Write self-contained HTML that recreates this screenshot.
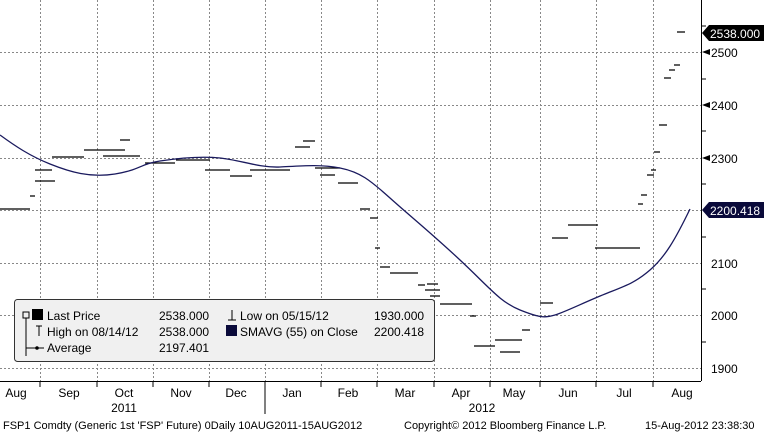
<!DOCTYPE html>
<html><head><style>
body{margin:0;background:#fff;}
svg{display:block;font-family:"Liberation Sans",sans-serif;}
</style></head><body>
<svg width="764" height="433" viewBox="0 0 764 433" xmlns="http://www.w3.org/2000/svg">
<rect width="764" height="433" fill="#fff"/>
<g stroke="#888" stroke-dasharray="2,2" stroke-width="1">
<line x1="0" y1="52.5" x2="701" y2="52.5"/><line x1="0" y1="105.5" x2="701" y2="105.5"/>
<line x1="0" y1="158.5" x2="701" y2="158.5"/><line x1="0" y1="210.5" x2="701" y2="210.5"/>
<line x1="0" y1="263.5" x2="701" y2="263.5"/><line x1="0" y1="315.5" x2="701" y2="315.5"/>
<line x1="0" y1="368.5" x2="701" y2="368.5"/>
<line x1="40.5" y1="0" x2="40.5" y2="381"/><line x1="97.5" y1="0" x2="97.5" y2="381"/>
<line x1="153.5" y1="0" x2="153.5" y2="381"/><line x1="209.5" y1="0" x2="209.5" y2="381"/>
<line x1="265.5" y1="0" x2="265.5" y2="381"/><line x1="321.5" y1="0" x2="321.5" y2="381"/>
<line x1="377.5" y1="0" x2="377.5" y2="381"/><line x1="434.5" y1="0" x2="434.5" y2="381"/>
<line x1="490.5" y1="0" x2="490.5" y2="381"/><line x1="540.5" y1="0" x2="540.5" y2="381"/>
<line x1="596.5" y1="0" x2="596.5" y2="381"/><line x1="653.5" y1="0" x2="653.5" y2="381"/>
</g>
<g stroke="#000" stroke-width="1.3">
<path d="M0 209H30M30 196H35M35 181H55M35 170H52M52 157H84M84 150H125M120 140H130M103 156H140M145 163H175M176 160H210M205 170H230M230 176H252M250 170H290M295 147H310M303 141H315M315 168H340M320 175H335M338 183H358M360 209H370M370 218H378M375 248H380M380 267H390M390 273H418M418 285H425M425 290H440M427 284H438M430 296H440M440 304H472M470 316H476M474 346H495M495 340H522M500 352H520M522 330H530M540 303H553M552 238H568M568 225H598M595 248H640M638 204H643M641 195H647M647 175H654M651 170H656M654 152H660M659 125H667M664 78H671M669 70H675M674 65H680M677 32H685"/>
</g>
<path d="M0 135 C15 146,30 156,50 164 S90 178,115 174 S140 164,160 161 S200 156,220 158 S260 168,280 167 S320 164,340 168 S370 180,390 198 S430 232,460 260 S500 302,520 310 S545 318,555 315 S585 302,605 294 S635 283,650 270 S675 240,690 209" fill="none" stroke="#1a1a5e" stroke-width="1.3"/>
<line x1="701.5" y1="0" x2="701.5" y2="381" stroke="#000"/>
<line x1="0" y1="381.5" x2="701" y2="381.5" stroke="#000"/>
<g stroke="#000">
<line x1="701" y1="26" x2="706" y2="26"/><line x1="701" y1="79" x2="706" y2="79"/><line x1="701" y1="131" x2="706" y2="131"/><line x1="701" y1="184" x2="706" y2="184"/><line x1="701" y1="237" x2="706" y2="237"/><line x1="701" y1="289" x2="706" y2="289"/><line x1="701" y1="342" x2="706" y2="342"/>
<line x1="40" y1="381" x2="40" y2="387"/><line x1="97" y1="381" x2="97" y2="387"/><line x1="153" y1="381" x2="153" y2="387"/><line x1="209" y1="381" x2="209" y2="387"/><line x1="265" y1="381" x2="265" y2="414"/><line x1="321" y1="381" x2="321" y2="387"/><line x1="377" y1="381" x2="377" y2="387"/><line x1="434" y1="381" x2="434" y2="387"/><line x1="490" y1="381" x2="490" y2="387"/><line x1="540" y1="381" x2="540" y2="387"/><line x1="596" y1="381" x2="596" y2="387"/><line x1="653" y1="381" x2="653" y2="387"/>
</g>
<g font-size="12" fill="#000">
<polygon points="702,52 710,49 710,55"/><text x="711" y="57">2500</text>
<polygon points="702,105 710,102 710,108"/><text x="711" y="110">2400</text>
<polygon points="702,158 710,155 710,161"/><text x="711" y="163">2300</text>
<text x="711" y="268">2100</text>
<text x="711" y="320">2000</text>
<text x="711" y="373">1900</text>
</g>
<polygon points="702,33 709,25 764,25 764,41 709,41" fill="#000"/>
<text x="710" y="38" font-size="12" fill="#fff">2538.000</text>
<polygon points="702,210 709,202 764,202 764,218 709,218" fill="#0a0a3a"/>
<text x="710" y="215" font-size="12" fill="#fff">2200.418</text>
<g font-size="12" fill="#000" text-anchor="middle">
<text x="16" y="397">Aug</text><text x="69" y="397">Sep</text><text x="124" y="397">Oct</text><text x="181" y="397">Nov</text><text x="236" y="397">Dec</text><text x="292" y="397">Jan</text><text x="348" y="397">Feb</text><text x="405" y="397">Mar</text><text x="461" y="397">Apr</text><text x="514" y="397">May</text><text x="568" y="397">Jun</text><text x="624" y="397">Jul</text><text x="682" y="397">Aug</text>
<text x="124" y="412">2011</text><text x="482" y="412">2012</text>
</g>
<g font-size="11" fill="#000">
<text x="3" y="429">FSP1 Comdty (Generic 1st 'FSP' Future) 0Daily 10AUG2011-15AUG2012</text>
<text x="404" y="429">Copyright© 2012 Bloomberg Finance L.P.</text>
<text x="645" y="429">15-Aug-2012 23:38:30</text>
</g>
<rect x="14.5" y="299.5" width="420" height="62" rx="3" fill="#f0f0f0" stroke="#333"/>
<g font-size="12" fill="#000">
<rect x="23" y="312" width="6" height="6" fill="none" stroke="#000"/>
<line x1="26" y1="318" x2="26" y2="356" stroke="#000"/>
<rect x="32" y="309" width="11" height="11" fill="#000"/>
<text x="47" y="320">Last Price</text><text x="159" y="320">2538.000</text>
<text x="47" y="336">High on 08/14/12</text><text x="159" y="336">2538.000</text>
<text x="47" y="352">Average</text><text x="159" y="352">2197.401</text>
<text x="240" y="320">Low on 05/15/12</text><text x="374" y="320">1930.000</text>
<rect x="226" y="325" width="11" height="11" fill="#0a0a3a"/>
<text x="240" y="336">SMAVG (55) on Close</text><text x="374" y="336">2200.418</text>
<path d="M36 326H42M39 326V336M26 348H44" stroke="#000" fill="none"/>
<circle cx="37" cy="348" r="1.8"/>
<path d="M232 310V320M228 320H236" stroke="#000"/>
</g>
</svg>
</body></html>
